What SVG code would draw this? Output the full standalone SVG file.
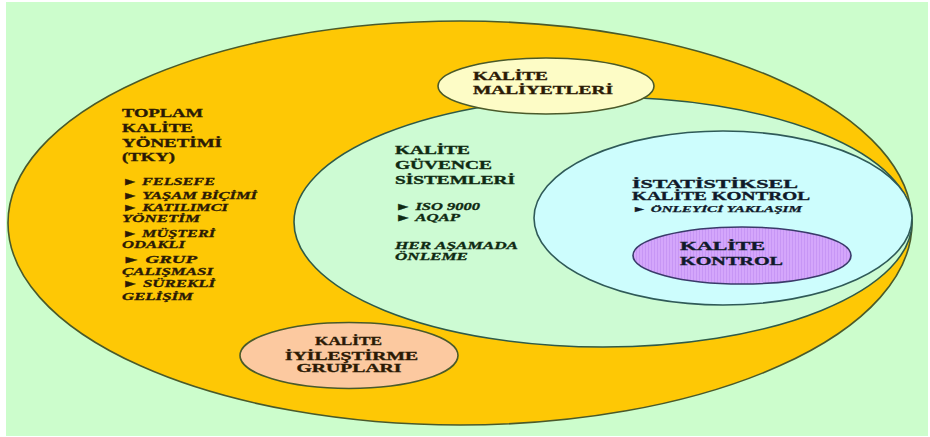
<svg xmlns="http://www.w3.org/2000/svg" width="930" height="437" viewBox="0 0 930 437">
  <defs>
    <pattern id="stripes" width="3" height="10" patternUnits="userSpaceOnUse">
      <rect width="3" height="10" fill="#d4a6fb"/>
      <rect width="1" height="10" fill="#c796f5"/>
    </pattern>
    <style>
      .h { font-family: "Liberation Serif", "Times New Roman", serif; font-weight: bold; font-size: 12.5px; stroke-width: 0.35; }
      .i { font-family: "Liberation Serif", "Times New Roman", serif; font-weight: bold; font-style: italic; font-size: 10.5px; stroke-width: 0.3; }
      .s { font-family: "Liberation Serif", "Times New Roman", serif; font-weight: bold; font-style: italic; font-size: 8.5px; stroke-width: 0.25; }
      .tky { fill: #2b1a05; stroke: #2b1a05; }
      .kgs { fill: #0f2a12; stroke: #0f2a12; }
      .sk { fill: #101a2a; stroke: #101a2a; }
      .edge { stroke: #4a5a2a; stroke-width: 1.6; }
    </style>
  </defs>

  <rect x="0" y="0" width="930" height="437" fill="#ffffff"/>
  <rect x="6" y="2" width="922" height="434" fill="#ccfdcc"/>

  <g id="connectors"/>

  <g id="tky">
    <ellipse cx="460" cy="223" rx="452" ry="202" fill="#fec805" class="edge"/>
    <text class="h tky" x="122" y="117" textLength="81" lengthAdjust="spacingAndGlyphs">TOPLAM</text>
    <text class="h tky" x="122" y="132" textLength="71" lengthAdjust="spacingAndGlyphs">KALİTE</text>
    <text class="h tky" x="122" y="147" textLength="100" lengthAdjust="spacingAndGlyphs">YÖNETİMİ</text>
    <text class="h tky" x="122" y="161" textLength="53" lengthAdjust="spacingAndGlyphs">(TKY)</text>
    <text class="i tky" x="122" y="184.5" textLength="93" lengthAdjust="spacingAndGlyphs"><tspan font-style="normal">►</tspan> FELSEFE</text>
    <text class="i tky" x="122" y="199" textLength="135" lengthAdjust="spacingAndGlyphs"><tspan font-style="normal">►</tspan> YAŞAM BİÇİMİ</text>
    <text class="i tky" x="122" y="210.5" textLength="106" lengthAdjust="spacingAndGlyphs"><tspan font-style="normal">►</tspan> KATILIMCI</text>
    <text class="i tky" x="122" y="222" textLength="78" lengthAdjust="spacingAndGlyphs">YÖNETİM</text>
    <text class="i tky" x="122" y="236.5" textLength="93" lengthAdjust="spacingAndGlyphs"><tspan font-style="normal">►</tspan> MÜŞTERİ</text>
    <text class="i tky" x="122" y="248" textLength="63" lengthAdjust="spacingAndGlyphs">ODAKLI</text>
    <text class="i tky" x="122" y="263" textLength="75" lengthAdjust="spacingAndGlyphs"><tspan font-style="normal">►</tspan> GRUP</text>
    <text class="i tky" x="122" y="275" textLength="91" lengthAdjust="spacingAndGlyphs">ÇALIŞMASI</text>
    <text class="i tky" x="122" y="287" textLength="93" lengthAdjust="spacingAndGlyphs"><tspan font-style="normal">►</tspan> SÜREKLİ</text>
    <text class="i tky" x="122" y="299.5" textLength="71" lengthAdjust="spacingAndGlyphs">GELİŞİM</text>
  </g>

  <g id="kalite-guvence">
    <ellipse cx="603" cy="222" rx="309" ry="125" fill="#cdfbd3" stroke="#2f5a48" stroke-width="1.6"/>
    <text class="h kgs" x="395" y="153.5" textLength="75" lengthAdjust="spacingAndGlyphs">KALİTE</text>
    <text class="h kgs" x="395" y="168.5" textLength="97" lengthAdjust="spacingAndGlyphs">GÜVENCE</text>
    <text class="h kgs" x="395" y="183.5" textLength="120" lengthAdjust="spacingAndGlyphs">SİSTEMLERİ</text>
    <text class="i kgs" x="395" y="209.5" textLength="85" lengthAdjust="spacingAndGlyphs"><tspan font-style="normal">►</tspan> ISO 9000</text>
    <text class="i kgs" x="395" y="220.5" textLength="65" lengthAdjust="spacingAndGlyphs"><tspan font-style="normal">►</tspan> AQAP</text>
    <text class="i kgs" x="395" y="248.5" textLength="123" lengthAdjust="spacingAndGlyphs">HER AŞAMADA</text>
    <text class="i kgs" x="395" y="260" textLength="73" lengthAdjust="spacingAndGlyphs">ÖNLEME</text>
  </g>

  <g id="istatistiksel-kalite-kontrol">
    <ellipse cx="723" cy="218" rx="189" ry="87" fill="#cdfdfd" stroke="#2f5a58" stroke-width="1.6"/>
    <text class="h sk" x="632" y="187.5" textLength="166" lengthAdjust="spacingAndGlyphs">İSTATİSTİKSEL</text>
    <text class="h sk" x="632" y="200" textLength="178" lengthAdjust="spacingAndGlyphs">KALİTE KONTROL</text>
    <text class="s sk" x="632" y="212" textLength="170" lengthAdjust="spacingAndGlyphs"><tspan font-style="normal">►</tspan> ÖNLEYİCİ YAKLAŞIM</text>
  </g>

  <g id="kalite-kontrol">
    <ellipse cx="742" cy="255.5" rx="109" ry="28.5" fill="url(#stripes)" stroke="#3a3a6a" stroke-width="1.6"/>
    <text class="h sk" x="680" y="250" textLength="85" lengthAdjust="spacingAndGlyphs">KALİTE</text>
    <text class="h sk" x="680" y="264.5" textLength="103" lengthAdjust="spacingAndGlyphs">KONTROL</text>
  </g>

  <g id="kalite-maliyetleri">
    <ellipse cx="546" cy="86" rx="108" ry="28" fill="#fdfcc6" class="edge"/>
    <text class="h tky" x="473" y="80" textLength="75" lengthAdjust="spacingAndGlyphs">KALİTE</text>
    <text class="h tky" x="473" y="93.5" textLength="140" lengthAdjust="spacingAndGlyphs">MALİYETLERİ</text>
  </g>

  <g id="kalite-iyilestirme-gruplari">
    <ellipse cx="349" cy="355.5" rx="109" ry="33" fill="#fcc9a0" class="edge"/>
    <text class="h tky" x="348.5" y="345" text-anchor="middle" textLength="67" lengthAdjust="spacingAndGlyphs">KALİTE</text>
    <text class="h tky" x="351.5" y="359.5" text-anchor="middle" textLength="133" lengthAdjust="spacingAndGlyphs">İYİLEŞTİRME</text>
    <text class="h tky" x="349" y="372" text-anchor="middle" textLength="105" lengthAdjust="spacingAndGlyphs">GRUPLARI</text>
  </g>
</svg>
